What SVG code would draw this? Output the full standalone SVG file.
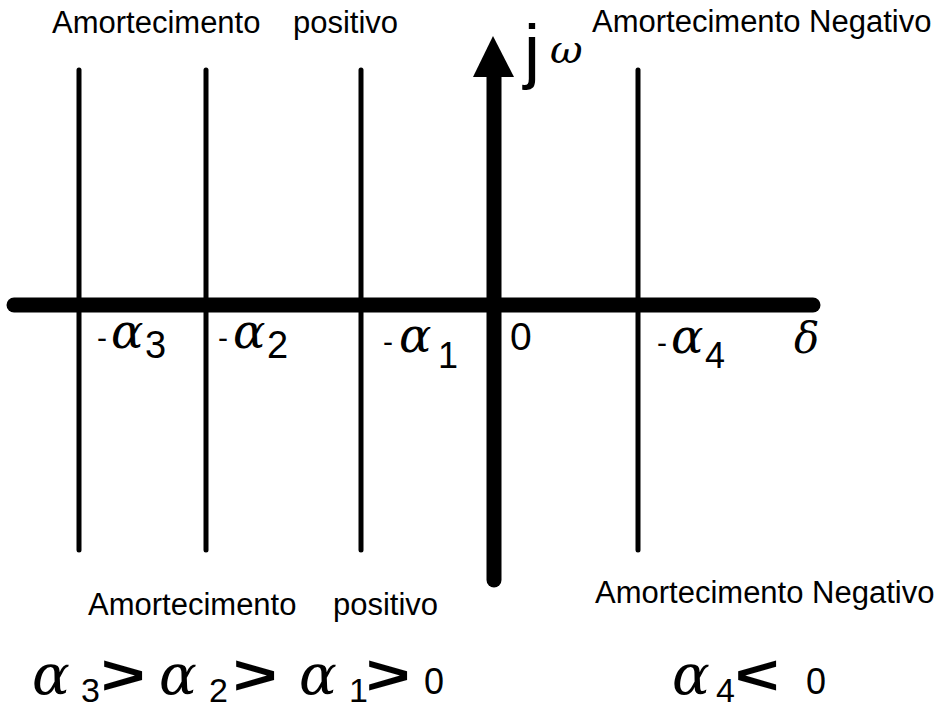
<svg xmlns="http://www.w3.org/2000/svg" width="946" height="709" viewBox="0 0 946 709">
<style>
.thin{stroke:#000;stroke-width:5;stroke-linecap:round;fill:none}
.thick{stroke:#000;stroke-width:15;stroke-linecap:round;fill:none}
.lbl{font-family:"Liberation Sans",Arial,sans-serif;font-size:31px;fill:#000}
.gr{font-family:"DejaVu Serif","Liberation Serif",serif;font-style:italic;fill:#000}
.sa{font-family:"Liberation Sans",Arial,sans-serif;fill:#000}
.op{font-family:"Liberation Sans",Arial,sans-serif;font-weight:bold;font-size:56px;fill:#000}
</style>
<rect width="946" height="709" fill="#fff"/>
<g id="axes">
<line class="thick" x1="14" y1="305" x2="813" y2="305"/>
<line class="thick" x1="494" y1="75" x2="494" y2="580"/>
<polygon points="493,36 473,77 514,77" fill="#000"/>
</g>
<g id="connectors">
<line id="l3" class="thin" x1="79" y1="70" x2="79" y2="550"/>
<line id="l2" class="thin" x1="206" y1="70" x2="206" y2="550"/>
<line id="l1" class="thin" x1="361" y1="70" x2="361" y2="550"/>
<line id="l4" class="thin" x1="638" y1="70" x2="638" y2="550"/>
</g>
<g id="top-labels">
<text class="lbl" x="52" y="33">Amortecimento<tspan x="293">positivo</tspan></text>
<text class="lbl" x="592" y="32">Amortecimento Negativo</text>
</g>
<g id="bottom-labels">
<text class="lbl" x="88" y="615">Amortecimento<tspan x="333">positivo</tspan></text>
<text class="lbl" x="595" y="603">Amortecimento Negativo</text>
</g>
<g id="jw">
<text class="sa" x="524" y="75" font-size="72">j</text>
<text class="gr" x="550" y="63" font-size="40">ω</text>
</g>
<g id="axis-labels">
<text class="sa" x="97" y="348" font-size="30">-</text>
<text class="gr" x="111" y="348" font-size="48">α</text>
<text class="sa" x="145" y="358" font-size="38">3</text>
<text class="sa" x="218" y="348" font-size="30">-</text>
<text class="gr" x="233" y="348" font-size="48">α</text>
<text class="sa" x="267" y="358" font-size="38">2</text>
<text class="sa" x="383" y="352" font-size="30">-</text>
<text class="gr" x="399" y="352" font-size="48">α</text>
<text class="sa" x="438" y="368" font-size="36">1</text>
<text class="sa" x="510" y="350" font-size="39">0</text>
<text class="sa" x="657" y="353" font-size="30">-</text>
<text class="gr" x="671" y="353" font-size="48">α</text>
<text class="sa" x="705" y="368" font-size="36">4</text>
<text class="gr" x="794" y="353" font-size="42">δ</text>
</g>
<g id="eq-positive">
<text class="gr" x="32" y="694" font-size="56">α</text>
<text class="sa" x="81" y="702" font-size="34">3</text>
<text class="op" transform="translate(101,694) scale(1.35,1)">&gt;</text>
<text class="gr" x="159" y="694" font-size="56">α</text>
<text class="sa" x="209" y="702" font-size="34">2</text>
<text class="op" transform="translate(233,694) scale(1.35,1)">&gt;</text>
<text class="gr" x="299" y="694" font-size="56">α</text>
<text class="sa" x="349" y="702" font-size="34">1</text>
<text class="op" transform="translate(366,694) scale(1.35,1)">&gt;</text>
<text class="sa" x="424" y="694" font-size="36">0</text>
</g>
<g id="eq-negative">
<text class="gr" x="672" y="694" font-size="56">α</text>
<text class="sa" x="716" y="702" font-size="34">4</text>
<text class="op" transform="translate(735,694) scale(1.35,1)">&lt;</text>
<text class="sa" x="806" y="694" font-size="36">0</text>
</g>
</svg>
